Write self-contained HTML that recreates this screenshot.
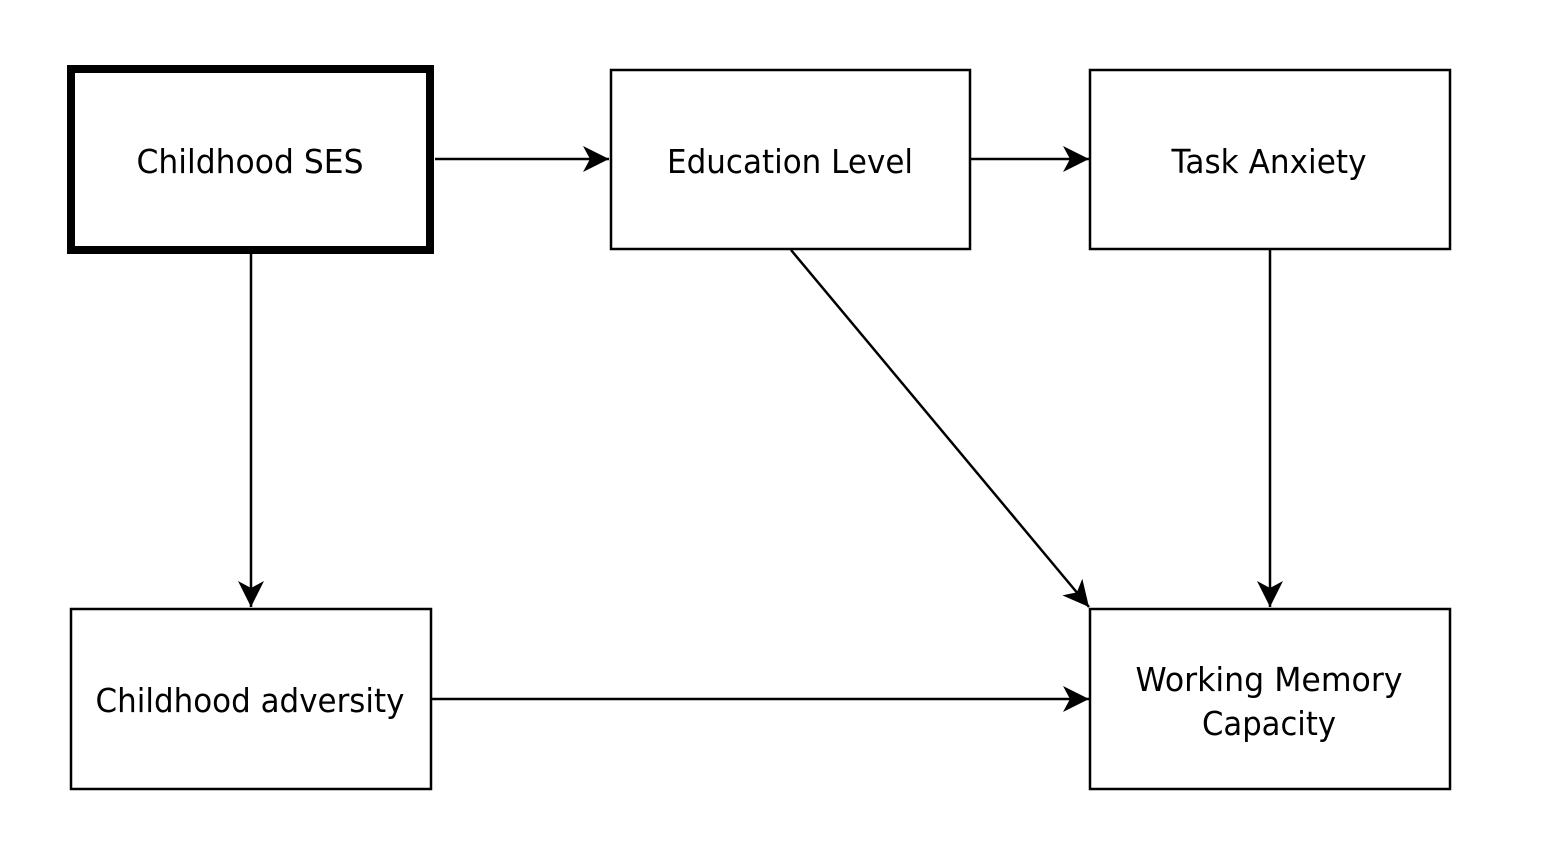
<!DOCTYPE html>
<html><head><meta charset="utf-8"><style>html,body{margin:0;padding:0;background:#fff}svg{display:block}</style></head>
<body>
<svg width="1552" height="856" viewBox="0 0 1552 856" xmlns="http://www.w3.org/2000/svg">
<defs>
<marker id="a" markerUnits="userSpaceOnUse" markerWidth="30" markerHeight="30" refX="26" refY="14" orient="auto">
<path d="M26,14 L0,1 L7,14 L0,27 Z" fill="#000"/>
</marker>
</defs>
<g fill="#fff" stroke="#000" stroke-width="2.5">
<rect x="71" y="69" width="359" height="181" stroke-width="8"/>
<rect x="611" y="70" width="359" height="179"/>
<rect x="1090" y="70" width="360" height="179"/>
<rect x="71" y="609" width="360" height="180"/>
<rect x="1090" y="609" width="360" height="180"/>
</g>
<g stroke="#000" stroke-width="2.5" fill="none" marker-end="url(#a)">
<line x1="435" y1="159" x2="609" y2="159"/>
<line x1="971" y1="159" x2="1089" y2="159"/>
<line x1="251" y1="254" x2="251" y2="607"/>
<line x1="432" y1="699" x2="1089" y2="699"/>
<line x1="791" y1="250" x2="1089" y2="607"/>
<line x1="1270" y1="250" x2="1270" y2="607"/>
</g>
<g font-family="'DejaVu Sans', 'Liberation Sans', sans-serif" font-size="33" fill="#000" text-anchor="middle">
<text x="250" y="173" textLength="227" lengthAdjust="spacingAndGlyphs">Childhood SES</text>
<text x="790" y="173" textLength="246" lengthAdjust="spacingAndGlyphs">Education Level</text>
<text x="1269" y="173" textLength="195" lengthAdjust="spacingAndGlyphs">Task Anxiety</text>
<text x="250" y="712" textLength="309" lengthAdjust="spacingAndGlyphs">Childhood adversity</text>
<text x="1269" y="691" textLength="267" lengthAdjust="spacingAndGlyphs">Working Memory</text>
<text x="1269" y="735" textLength="134" lengthAdjust="spacingAndGlyphs">Capacity</text>
</g>
</svg>
</body></html>
